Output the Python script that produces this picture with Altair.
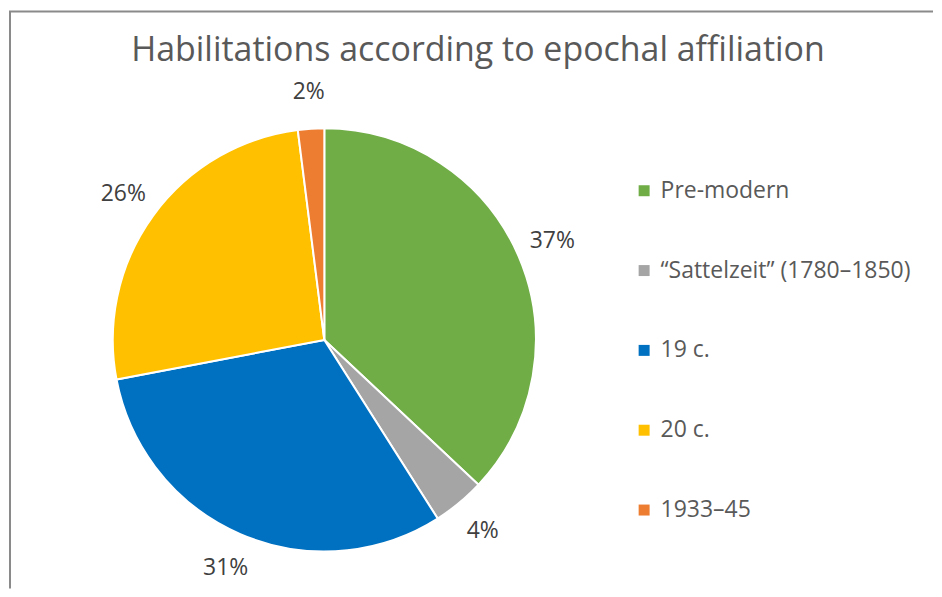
import altair as alt
import pandas as pd

categories = ["Pre-modern", "\u201cSattelzeit\u201d (1780\u20131850)", "19 c.", "20 c.", "1933\u201345"]
values = [37, 4, 31, 26, 2]
colors = ["#70AD47", "#A5A5A5", "#0070C0", "#FFC000", "#ED7D31"]
title_text = "Habilitations according to epochal affiliation"

df = pd.DataFrame({
    "category": categories,
    "value": values,
    "order": list(range(len(categories))),
    "label": [f"{v}%" for v in values],
})

W, H = 926, 581
CX, CY = 316, 332
R = 212
FONT = "Open Sans"

base = alt.Chart(df).encode(
    theta=alt.Theta("value:Q", stack=True),
    order=alt.Order("order:Q"),
)

pie = base.mark_arc(radius=R, stroke="white", strokeWidth=2).encode(
    x=alt.value(CX),
    y=alt.value(CY),
    color=alt.Color(
        "category:N",
        scale=alt.Scale(domain=categories, range=colors),
        sort=categories,
        legend=alt.Legend(
            title=None,
            orient="none",
            legendX=625,
            legendY=171,
            symbolType="square",
            symbolSize=121,
            symbolStrokeWidth=0,
            labelFont=FONT,
            labelFontSize=23,
            labelColor="#595959",
            labelOffset=5,
            rowPadding=56,
            padding=0,
            labelLimit=400,
        ),
    ),
)

labels = base.mark_text(
    radius=249, font=FONT, fontSize=23, color="#404040", align="center", baseline="middle"
).encode(
    x=alt.value(CX),
    y=alt.value(CY),
    text="label:N",
)

title = alt.Chart(pd.DataFrame({"t": [title_text]})).mark_text(
    font=FONT, fontSize=34, color="#595959", align="center", baseline="alphabetic"
).encode(x=alt.value(470), y=alt.value(52), text="t:N")

border_top = alt.Chart(pd.DataFrame({"a": [0]})).mark_rule(color="#8a8a8a", strokeWidth=2).encode(
    x=alt.value(0), x2=alt.value(W), y=alt.value(3)
)
border_left = alt.Chart(pd.DataFrame({"a": [0]})).mark_rule(color="#8a8a8a", strokeWidth=2).encode(
    x=alt.value(1), y=alt.value(3), y2=alt.value(H)
)

chart = alt.layer(pie, labels, title, border_top, border_left).properties(
    width=W, height=H, padding=0
).configure_view(stroke=None)

chart.save("out.html", embed_options={"renderer": "svg", "actions": False})
